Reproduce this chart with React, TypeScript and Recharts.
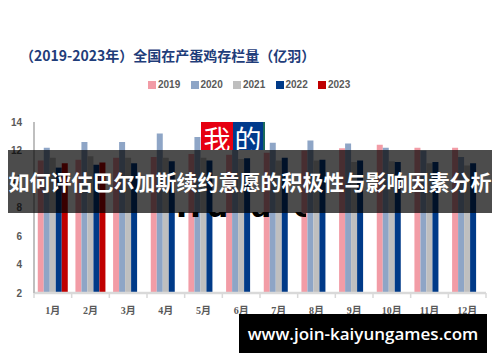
import React from 'react';
import { BarChart, Bar, XAxis, YAxis, Legend } from 'recharts';

const MONTHS = ['1月', '2月', '3月', '4月', '5月', '6月', '7月', '8月', '9月', '10月', '11月', '12月'];
const Y_TICKS = [2, 4, 6, 8, 10, 12, 14];

const Y2019 = [11.3, 11.35, 11.5, 11.55, 11.75, 11.7, 11.85, 12.0, 12.15, 12.4, 12.2, 12.2];
const Y2020 = [12.2, 12.6, 12.6, 13.2, 12.95, 12.55, 12.55, 12.7, 12.5, 12.2, 12.0, 11.55];
const Y2021 = [11.5, 11.6, 11.5, 11.5, 11.5, 11.4, 11.3, 11.3, 11.2, 11.25, 11.1, 10.95];
const Y2022 = [10.8, 11.0, 11.1, 11.25, 11.3, 11.45, 11.5, 11.35, 11.3, 11.2, 11.2, 11.1];
const Y2023 = [11.1, 11.15, null, null, null, null, null, null, null, null, null, null];

const SERIES = [
  { key: '2019', color: '#F29CA6', values: Y2019 },
  { key: '2020', color: '#8EA5C6', values: Y2020 },
  { key: '2021', color: '#BFBFBF', values: Y2021 },
  { key: '2022', color: '#003A88', values: Y2022 },
  { key: '2023', color: '#C00000', values: Y2023 },
];

const data = MONTHS.map((m, i) => {
  const row: Record<string, string | number | null> = { month: m };
  SERIES.forEach((s) => { row[s.key] = s.values[i]; });
  return row;
});

// layout
const W = 500;
const H = 362;
const MARGIN = { top: 111, right: 14, bottom: 39, left: 8 };
const Y_AXIS_W = 26;
const X_AXIS_H = 30;
const AXIS_Y = H - MARGIN.bottom - X_AXIS_H;
const STEP = (W - MARGIN.left - Y_AXIS_W - MARGIN.right) / MONTHS.length;
const GRAY = '#595959';

function MonthTick(props: any) {
  const { x, payload, index } = props;
  const half = STEP / 2;
  return (
    <g>
      <line x1={x - half} x2={x - half} y1={AXIS_Y} y2={AXIS_Y + 5} stroke="#D9D9D9" strokeWidth={1.5} />
      {index === MONTHS.length - 1 && (
        <line x1={x + half} x2={x + half} y1={AXIS_Y} y2={AXIS_Y + 5} stroke="#D9D9D9" strokeWidth={1.5} />
      )}
      <text
        x={x}
        y={AXIS_Y + 21}
        textAnchor="middle"
        fontSize={10}
        fontWeight="bold"
        fill={GRAY}
        fontFamily="'Liberation Serif', 'Noto Sans CJK SC', serif"
      >
        {payload.value}
      </text>
    </g>
  );
}

function LegendContent(props: any) {
  const items = props.payload ?? [];
  return (
    <div style={{ display: 'flex', justifyContent: 'center', gap: 8.5 }}>
      {items.map((it: any) => (
        <div key={it.value} style={{ display: 'flex', alignItems: 'center', width: 34 }}>
          <span style={{ width: 8, height: 8, background: it.color, marginRight: 2, display: 'inline-block' }} />
          <span style={{ fontSize: 10, fontWeight: 'bold', color: GRAY, fontFamily: "'Liberation Sans', sans-serif" }}>
            {it.value}
          </span>
        </div>
      ))}
    </div>
  );
}

export default function App() {
  return (
    <div style={{ position: 'absolute', left: 0, top: 0, width: W, height: H, background: '#fff', overflow: 'hidden' }}>
      <div
        style={{
          position: 'absolute',
          left: 20,
          top: 45,
          fontSize: 14,
          fontWeight: 'bold',
          color: '#1F3D7A',
          fontFamily: "'Noto Sans CJK SC', sans-serif",
          whiteSpace: 'nowrap',
        }}
      >
        （2019-2023年）全国在产蛋鸡存栏量（亿羽）
      </div>
      <BarChart width={W} height={H} data={data} margin={MARGIN} barCategoryGap="10%" barGap={0}>
        <XAxis
          dataKey="month"
          height={X_AXIS_H}
          axisLine={{ stroke: '#D9D9D9', strokeWidth: 2.5 }}
          tickLine={false}
          tick={<MonthTick />}
          interval={0}
        />
        <YAxis
          width={Y_AXIS_W}
          domain={[2, 14]}
          ticks={Y_TICKS}
          allowDataOverflow
          axisLine={{ stroke: '#BFBFBF', strokeWidth: 2 }}
          tickLine={false}
          tickSize={6}
          tickMargin={6}
          tick={{ fontSize: 10, fontWeight: 'bold', fill: GRAY, fontFamily: "'Liberation Sans', sans-serif" }}
        />
        <Legend
          verticalAlign="top"
          content={<LegendContent />}
          wrapperStyle={{ top: 79, left: 0, width: W }}
        />
        {SERIES.map((s) => (
          <Bar key={s.key} dataKey={s.key} name={s.key} fill={s.color} isAnimationActive={false} />
        ))}
      </BarChart>

      {/* watermark overlays */}
      <div
        style={{
          position: 'absolute',
          left: 201,
          top: 122,
          width: 32,
          height: 28,
          background: '#E60012',
          color: '#fff',
          fontSize: 27,
          lineHeight: '34px',
          textAlign: 'center',
          overflow: 'hidden',
          fontFamily: "'Noto Sans CJK SC', serif",
        }}
      >
        我
      </div>
      <div
        style={{
          position: 'absolute',
          left: 233,
          top: 122,
          width: 30,
          height: 28,
          background: '#003A8C',
          borderRight: '2px solid #1B6B5A',
          color: '#fff',
          fontSize: 27,
          lineHeight: '34px',
          textAlign: 'center',
          overflow: 'hidden',
          fontFamily: "'Noto Sans CJK SC', serif",
        }}
      >
        的
      </div>
      <div
        style={{
          position: 'absolute',
          left: 176,
          top: 212,
          width: 130,
          height: 10,
          overflow: 'hidden',
        }}
      >
        <div
          style={{
            position: 'absolute',
            left: 0,
            top: -20,
            fontSize: 30,
            fontWeight: 'bold',
            color: '#000',
            lineHeight: '30px',
            letterSpacing: 6,
            fontFamily: "'DejaVu Sans', sans-serif",
            whiteSpace: 'nowrap',
          }}
        >
          Hu a e C
        </div>
      </div>
      <div
        style={{
          position: 'absolute',
          left: 8,
          top: 150,
          width: 484,
          height: 63,
          background: 'rgba(0,0,0,0.7)',
          color: '#fff',
          fontSize: 21,
          fontWeight: 'bold',
          lineHeight: '63px',
          textAlign: 'center',
          whiteSpace: 'nowrap',
          fontFamily: "'Noto Sans CJK SC', sans-serif",
        }}
      >
        如何评估巴尔加斯续约意愿的积极性与影响因素分析
      </div>
      <div
        style={{
          position: 'absolute',
          left: 239,
          top: 314,
          width: 248,
          height: 39,
          background: '#000',
          color: '#fff',
          fontSize: 17,
          fontWeight: 600,
          lineHeight: '39px',
          textAlign: 'center',
          whiteSpace: 'nowrap',
          fontFamily: "'Open Sans', sans-serif",
        }}
      >
        www.join-kaiyungames.com
      </div>
    </div>
  );
}
